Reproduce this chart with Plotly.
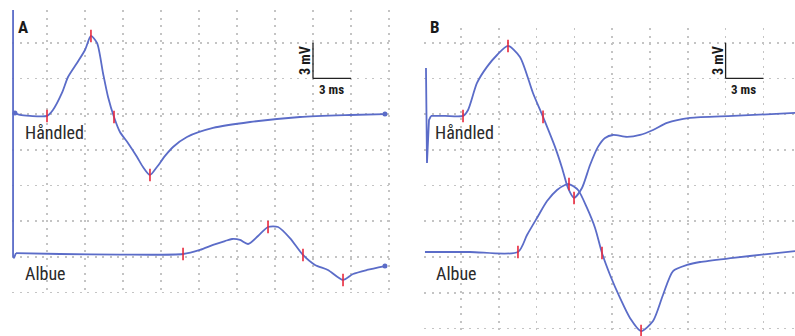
import plotly.graph_objects as go

# ---------------- data (time in ms, amplitude in mV relative to each trace's baseline) -------------
# Panel A - Håndled (wrist)
hand_A_t = [-2.53, -2.13, -1.34, 0.0, 0.47, 1.18, 1.66, 2.37, 3.00, 3.47, 3.95, 4.42, 4.82, 5.29,
            5.76, 6.39, 7.11, 7.58, 8.13, 8.68, 9.32, 9.95, 11.05, 13.11, 16.03, 19.97, 23.92, 26.68]
hand_A_mV = [0.17, 0.0, -0.08, -0.08, 0.42, 1.85, 3.19, 4.37, 5.46, 6.64, 6.05, 3.53, 1.51, -0.17,
             -1.43, -2.35, -3.53, -4.37, -5.04, -4.37, -3.44, -2.69, -1.85, -1.09, -0.59, -0.17, 0.0, 0.08]
hand_A_marks = [3, 9, 13, 18]

# Panel A - Albue (elbow)
albue_A_t = [-2.45, 1.03, 5.76, 10.74, 12.08, 13.11, 14.05, 14.61, 15.24, 15.87, 16.66, 17.45, 18.24,
             19.18, 20.21, 21.16, 22.18, 23.37, 24.16, 25.26, 26.68]
albue_A_mV = [0.08, 0.0, -0.05, 0.0, 0.34, 0.76, 1.09, 1.26, 1.18, 0.84, 1.51, 2.27, 2.27,
              1.34, -0.08, -0.92, -1.34, -2.18, -1.68, -1.34, -1.01]
albue_A_marks = [3, 11, 14, 17]
artifact_A_t = [-2.68, -2.68, -2.61, -2.45]
artifact_A_mV = [20.5, -0.17, -0.34, 0.08]

# Panel B - Håndled
hand_B_t = [-2.38, -1.27, 0.16, 0.56, 1.27, 2.06, 2.86, 3.73, 4.68, 5.71, 6.51, 7.46, 8.02, 8.49,
            8.97, 9.60, 10.24, 10.87, 11.43, 12.06, 13.18, 14.21, 15.24, 16.35, 18.18, 21.59, 26.51]
hand_B_mV = [0.0, 0.0, 0.0, 0.50, 2.77, 4.12, 5.12, 5.88, 4.96, 1.93, -0.08, -2.60, -4.37, -6.05,
             -6.89, -6.05, -4.12, -2.60, -1.85, -1.60, -1.76, -1.60, -1.18, -0.59, -0.17, 0.0, 0.25]
hand_B_marks = [2, 7, 10, 14]
artifact_B_t = [-2.78, -2.74, -2.70, -2.54, -2.38]
artifact_B_mV = [4.03, -3.70, -3.95, -0.34, 0.0]

# Panel B - Albue
albue_B_t = [-2.86, 0.71, 4.52, 5.24, 6.03, 6.83, 7.62, 8.25, 8.57, 9.29, 10.00, 10.64, 11.19,
             11.83, 12.62, 13.41, 14.29, 15.24, 16.03, 16.83, 17.94, 18.97, 21.59, 24.29, 26.51]
albue_B_mV = [0.0, 0.0, 0.0, 1.43, 2.86, 4.28, 5.21, 5.63, 5.71, 5.21, 3.70, 2.02, -0.08,
              -1.93, -3.86, -5.54, -6.64, -5.80, -3.61, -1.60, -1.09, -0.84, -0.50, -0.17, 0.08]
albue_B_marks = [2, 8, 12, 16]

panel_labels = ["A", "B"]
trace_labels = ["Håndled", "Albue"]
scale_labels = ["3 mV", "3 ms"]

# ---------------- display settings -------------
W, H = 795, 336
BLUE = "#5b6cc8"
RED = "#e8283c"
GRID = "#c4c4c4"
OFF_HAND_A, OFF_ALBUE_A = 11.93, 0.25
OFF_HAND_B, OFF_ALBUE_B = 11.85, 0.42
NARROW = "Liberation Sans Narrow, Roboto Condensed, Arial Narrow, Roboto, sans-serif"
BOLD = "Liberation Sans Narrow, Roboto Condensed, Arial Narrow, Roboto, sans-serif"

fig = go.Figure()


def add_wave(t, mv, off, marks, xa, ya, art_t=None, art_mv=None, enddots=None):
    y = [v + off for v in mv]
    fig.add_trace(go.Scatter(x=t, y=y, mode="lines", xaxis=xa, yaxis=ya,
                             line=dict(color=BLUE, width=1.8, shape="spline", smoothing=0.7),
                             hoverinfo="skip", showlegend=False))
    if art_t is not None:
        fig.add_trace(go.Scatter(x=art_t, y=[v + off for v in art_mv], mode="lines", xaxis=xa, yaxis=ya,
                                 line=dict(color=BLUE, width=1.8), hoverinfo="skip", showlegend=False))
    fig.add_trace(go.Scatter(x=[t[i] for i in marks], y=[y[i] for i in marks], mode="markers",
                             xaxis=xa, yaxis=ya,
                             marker=dict(symbol="line-ns", size=9, line=dict(color=RED, width=1.6)),
                             hoverinfo="skip", showlegend=False))
    if enddots:
        fig.add_trace(go.Scatter(x=[t[i] for i in enddots], y=[y[i] for i in enddots], mode="markers",
                                 xaxis=xa, yaxis=ya, cliponaxis=False,
                                 marker=dict(color=BLUE, size=5), hoverinfo="skip", showlegend=False))


add_wave(hand_A_t, hand_A_mV, OFF_HAND_A, hand_A_marks, "x", "y", enddots=[0, len(hand_A_t) - 1])
add_wave(albue_A_t, albue_A_mV, OFF_ALBUE_A, albue_A_marks, "x", "y", artifact_A_t, artifact_A_mV,
         enddots=[len(albue_A_t) - 1])
add_wave(hand_B_t, hand_B_mV, OFF_HAND_B, hand_B_marks, "x2", "y2", artifact_B_t, artifact_B_mV)
add_wave(albue_B_t, albue_B_mV, OFF_ALBUE_B, albue_B_marks, "x2", "y2")


def px_x(p):
    return p / W


def px_y(p):
    return 1 - p / H


ax_common = dict(showgrid=True, gridcolor=GRID, gridwidth=1.6, griddash="2px,5.5px",
                 zeroline=False, showticklabels=False, ticks="", showline=False,
                 tick0=0, dtick=3, fixedrange=True)

fig.update_layout(
    width=W, height=H, margin=dict(l=0, r=0, t=0, b=0),
    paper_bgcolor="white", plot_bgcolor="white",
    xaxis=dict(domain=[px_x(12), px_x(392)], range=[-2.763, 27.237], anchor="y", **ax_common),
    yaxis=dict(domain=[px_y(294), px_y(10)], range=[-3.11, 20.75], anchor="x", **ax_common),
    xaxis2=dict(domain=[px_x(424), 1.0], range=[-2.937, 26.508], anchor="y2", **ax_common),
    yaxis2=dict(domain=[0.0, px_y(28)], range=[-6.637, 19.238], anchor="x2", **ax_common),
)

# scale bars (3 ms x 3 mV)
for xr, yr in [("x", "y"), ("x2", "y2")]:
    fig.add_shape(type="line", xref=xr, yref=yr, x0=21, x1=21, y0=15, y1=18,
                  line=dict(color="#222", width=1.3))
    fig.add_shape(type="line", xref=xr, yref=yr, x0=21, x1=24, y0=15, y1=15,
                  line=dict(color="#222", width=1.3))

ann = []
# panel letters
ann.append(dict(text="<b>" + panel_labels[0] + "</b>", x=px_x(22.5), y=px_y(27)))
ann.append(dict(text="<b>" + panel_labels[1] + "</b>", x=px_x(435), y=px_y(27)))
for a in ann:
    a.update(xref="paper", yref="paper", showarrow=False, xanchor="center", yanchor="middle",
             font=dict(family=BOLD, size=17, color="#1a1a1a"))

# trace labels
for xpx in (23, 433):
    ann.append(dict(text=trace_labels[0], x=px_x(xpx), y=px_y(133), xref="paper", yref="paper",
                    showarrow=False, xanchor="left", yanchor="middle",
                    font=dict(family=NARROW, size=18, color="#2a2a2a")))
for xpx in (23, 434):
    ann.append(dict(text=trace_labels[1], x=px_x(xpx), y=px_y(273), xref="paper", yref="paper",
                    showarrow=False, xanchor="left", yanchor="middle",
                    font=dict(family=NARROW, size=18, color="#2a2a2a")))

# scale labels
for mvx, msx, yms in ((305, 331, 90), (718, 743, 90)):
    ann.append(dict(text="<b>" + scale_labels[0] + "</b>", x=px_x(mvx), y=px_y(61), xref="paper",
                    yref="paper", showarrow=False, textangle=-90, xanchor="center", yanchor="middle",
                    font=dict(family=BOLD, size=14, color="#1a1a1a")))
    ann.append(dict(text="<b>" + scale_labels[1] + "</b>", x=px_x(msx), y=px_y(yms), xref="paper",
                    yref="paper", showarrow=False, xanchor="center", yanchor="middle",
                    font=dict(family=BOLD, size=13, color="#1a1a1a")))

fig.update_layout(annotations=ann)
fig.write_html("out.html", config={"staticPlot": True},
               post_script="document.body.style.margin='0';document.body.style.overflow='hidden';")
